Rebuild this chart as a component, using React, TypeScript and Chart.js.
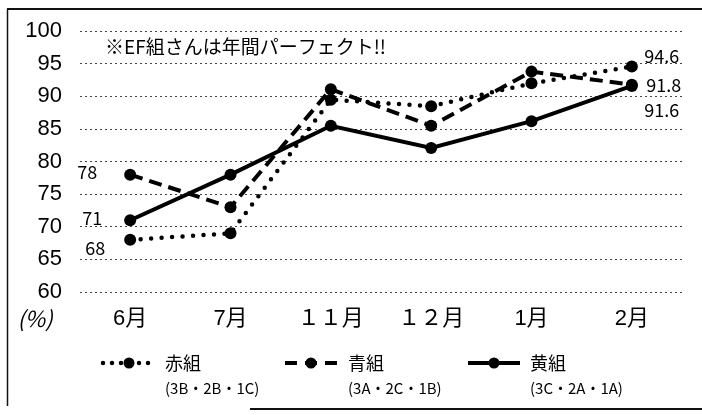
import React, { useEffect, useRef } from "react";
import { Chart, registerables } from "chart.js";

Chart.register(...registerables);

// ---- data ----
const months = ["6月", "7月", "１１月", "１２月", "1月", "2月"];
const akaValues = [68, 69, 89.5, 88.5, 92, 94.6];
const aoValues = [78, 73, 91.1, 85.5, 93.8, 91.8];
const kiValues = [71, 78, 85.5, 82.1, 86.2, 91.6];
const seriesNames = ["赤組", "青組", "黄組"];
const seriesClasses = ["(3B・2B・1C)", "(3A・2C・1B)", "(3C・2A・1A)"];
const yTickValues = [60, 65, 70, 75, 80, 85, 90, 95, 100];
const yUnit = "(%)";
const note = "※EF組さんは年間パーフェクト!!";

const FONT = "'Liberation Sans', 'Noto Sans CJK JP', sans-serif";
const CJK = "'Noto Sans CJK JP', sans-serif";

// label offsets relative to the first / last point of each series
const startOffsets = [[-35, 8], [-43, -2], [-38, -2]];
const endOffsets = [[30, -10], [32, 0], [30, 24]];

const legendSymbolCenters = [129, 311, 494];
const legendTextX = [165, 348, 530];

const overlayPlugin = {
  id: "overlay",
  afterDraw(chart: any) {
    const ctx = chart.ctx as CanvasRenderingContext2D;
    ctx.save();
    // frame
    ctx.strokeStyle = "#111";
    ctx.lineWidth = 2;
    ctx.beginPath();
    ctx.moveTo(7, 9);
    ctx.lineTo(702, 9);
    ctx.stroke();
    ctx.lineWidth = 1.5;
    ctx.beginPath();
    ctx.moveTo(7.5, 9);
    ctx.lineTo(7.5, 406);
    ctx.stroke();
    ctx.lineWidth = 2;
    ctx.beginPath();
    ctx.moveTo(250, 409);
    ctx.lineTo(702, 409);
    ctx.stroke();

    // unit
    ctx.fillStyle = "#000";
    ctx.font = `italic 22px ${CJK}`;
    ctx.textAlign = "center";
    ctx.textBaseline = "middle";
    ctx.fillText(yUnit, 35, 319);

    // note
    ctx.font = `19px ${CJK}`;
    ctx.textAlign = "left";
    ctx.fillText(note, 105, 47);

    // value labels
    ctx.font = `18px ${CJK}`;
    ctx.textAlign = "center";
    chart.data.datasets.forEach((ds: any, i: number) => {
      const meta = chart.getDatasetMeta(i);
      const first = meta.data[0];
      const last = meta.data[meta.data.length - 1];
      ctx.fillText(String(ds.data[0]), first.x + startOffsets[i][0], first.y + startOffsets[i][1]);
      ctx.fillText(String(ds.data[ds.data.length - 1]), last.x + endOffsets[i][0], last.y + endOffsets[i][1]);
    });

    // legend
    chart.data.datasets.forEach((ds: any, i: number) => {
      const cx = legendSymbolCenters[i];
      const y = 363;
      ctx.save();
      ctx.strokeStyle = "#000";
      ctx.lineWidth = ds.borderWidth;
      ctx.lineCap = ds.borderCapStyle || "butt";
      ctx.setLineDash(ds.legendDash || []);
      ctx.beginPath();
      ctx.moveTo(cx - 26, y);
      ctx.lineTo(cx + 26, y);
      ctx.stroke();
      ctx.setLineDash([]);
      ctx.beginPath();
      ctx.arc(cx, y, 5.5, 0, Math.PI * 2);
      ctx.fillStyle = "#000";
      ctx.fill();
      ctx.restore();
      ctx.fillStyle = "#000";
      ctx.textAlign = "left";
      ctx.textBaseline = "middle";
      ctx.font = `18px ${CJK}`;
      ctx.fillText(ds.label, legendTextX[i], y);
      ctx.font = `15px ${CJK}`;
      ctx.fillText(seriesClasses[i], legendTextX[i], 388);
    });
    ctx.restore();
  },
};

export default function App() {
  const ref = useRef<HTMLCanvasElement>(null);
  useEffect(() => {
    const canvas = ref.current!;
    const common = {
      borderColor: "#000",
      backgroundColor: "#000",
      pointBackgroundColor: "#000",
      pointBorderColor: "#000",
      pointRadius: 6,
      pointBorderWidth: 0,
      fill: false,
      tension: 0,
    };
    const chart = new Chart(canvas, {
      type: "line",
      data: {
        labels: months,
        datasets: [
          {
            ...common,
            label: seriesNames[0],
            data: akaValues,
            borderWidth: 4.5,
            borderDash: [0, 10.5],
            borderCapStyle: "round",
            legendDash: [0, 9],
          } as any,
          {
            ...common,
            label: seriesNames[1],
            data: aoValues,
            borderWidth: 4,
            borderDash: [13, 7],
            legendDash: [12, 8],
          } as any,
          {
            ...common,
            label: seriesNames[2],
            data: kiValues,
            borderWidth: 4,
            legendDash: [],
          } as any,
        ],
      },
      options: {
        responsive: false,
        animation: false,
        layout: { padding: { left: 0, right: 20, top: 29, bottom: 0 } },
        plugins: {
          legend: { display: false },
          tooltip: { enabled: false },
          title: { display: false },
        },
        scales: {
          x: {
            type: "category",
            offset: true,
            grid: { display: false, drawTicks: false },
            border: { display: false },
            ticks: {
              color: "#000",
              font: { family: FONT, size: 22 },
              padding: 14,
              maxRotation: 0,
              autoSkip: false,
            },
            afterFit: (axis: any) => {
              axis.height = 123;
            },
          },
          y: {
            min: 60,
            max: 100,
            afterBuildTicks: (axis: any) => {
              axis.ticks = yTickValues.map((v) => ({ value: v }));
            },
            grid: { color: "#444", lineWidth: 1, drawTicks: false },
            border: { display: false, dash: [2, 3] },
            ticks: {
              color: "#000",
              font: { family: FONT, size: 22 },
              padding: 18,
            },
            afterFit: (axis: any) => {
              axis.width = 80;
            },
          },
        },
      } as any,
      plugins: [overlayPlugin],
    });
    return () => chart.destroy();
  }, []);
  return (
    <div style={{ position: "absolute", left: 0, top: 0, width: 702, height: 415, background: "#fff" }}>
      <canvas ref={ref} width={702} height={415} />
    </div>
  );
}
